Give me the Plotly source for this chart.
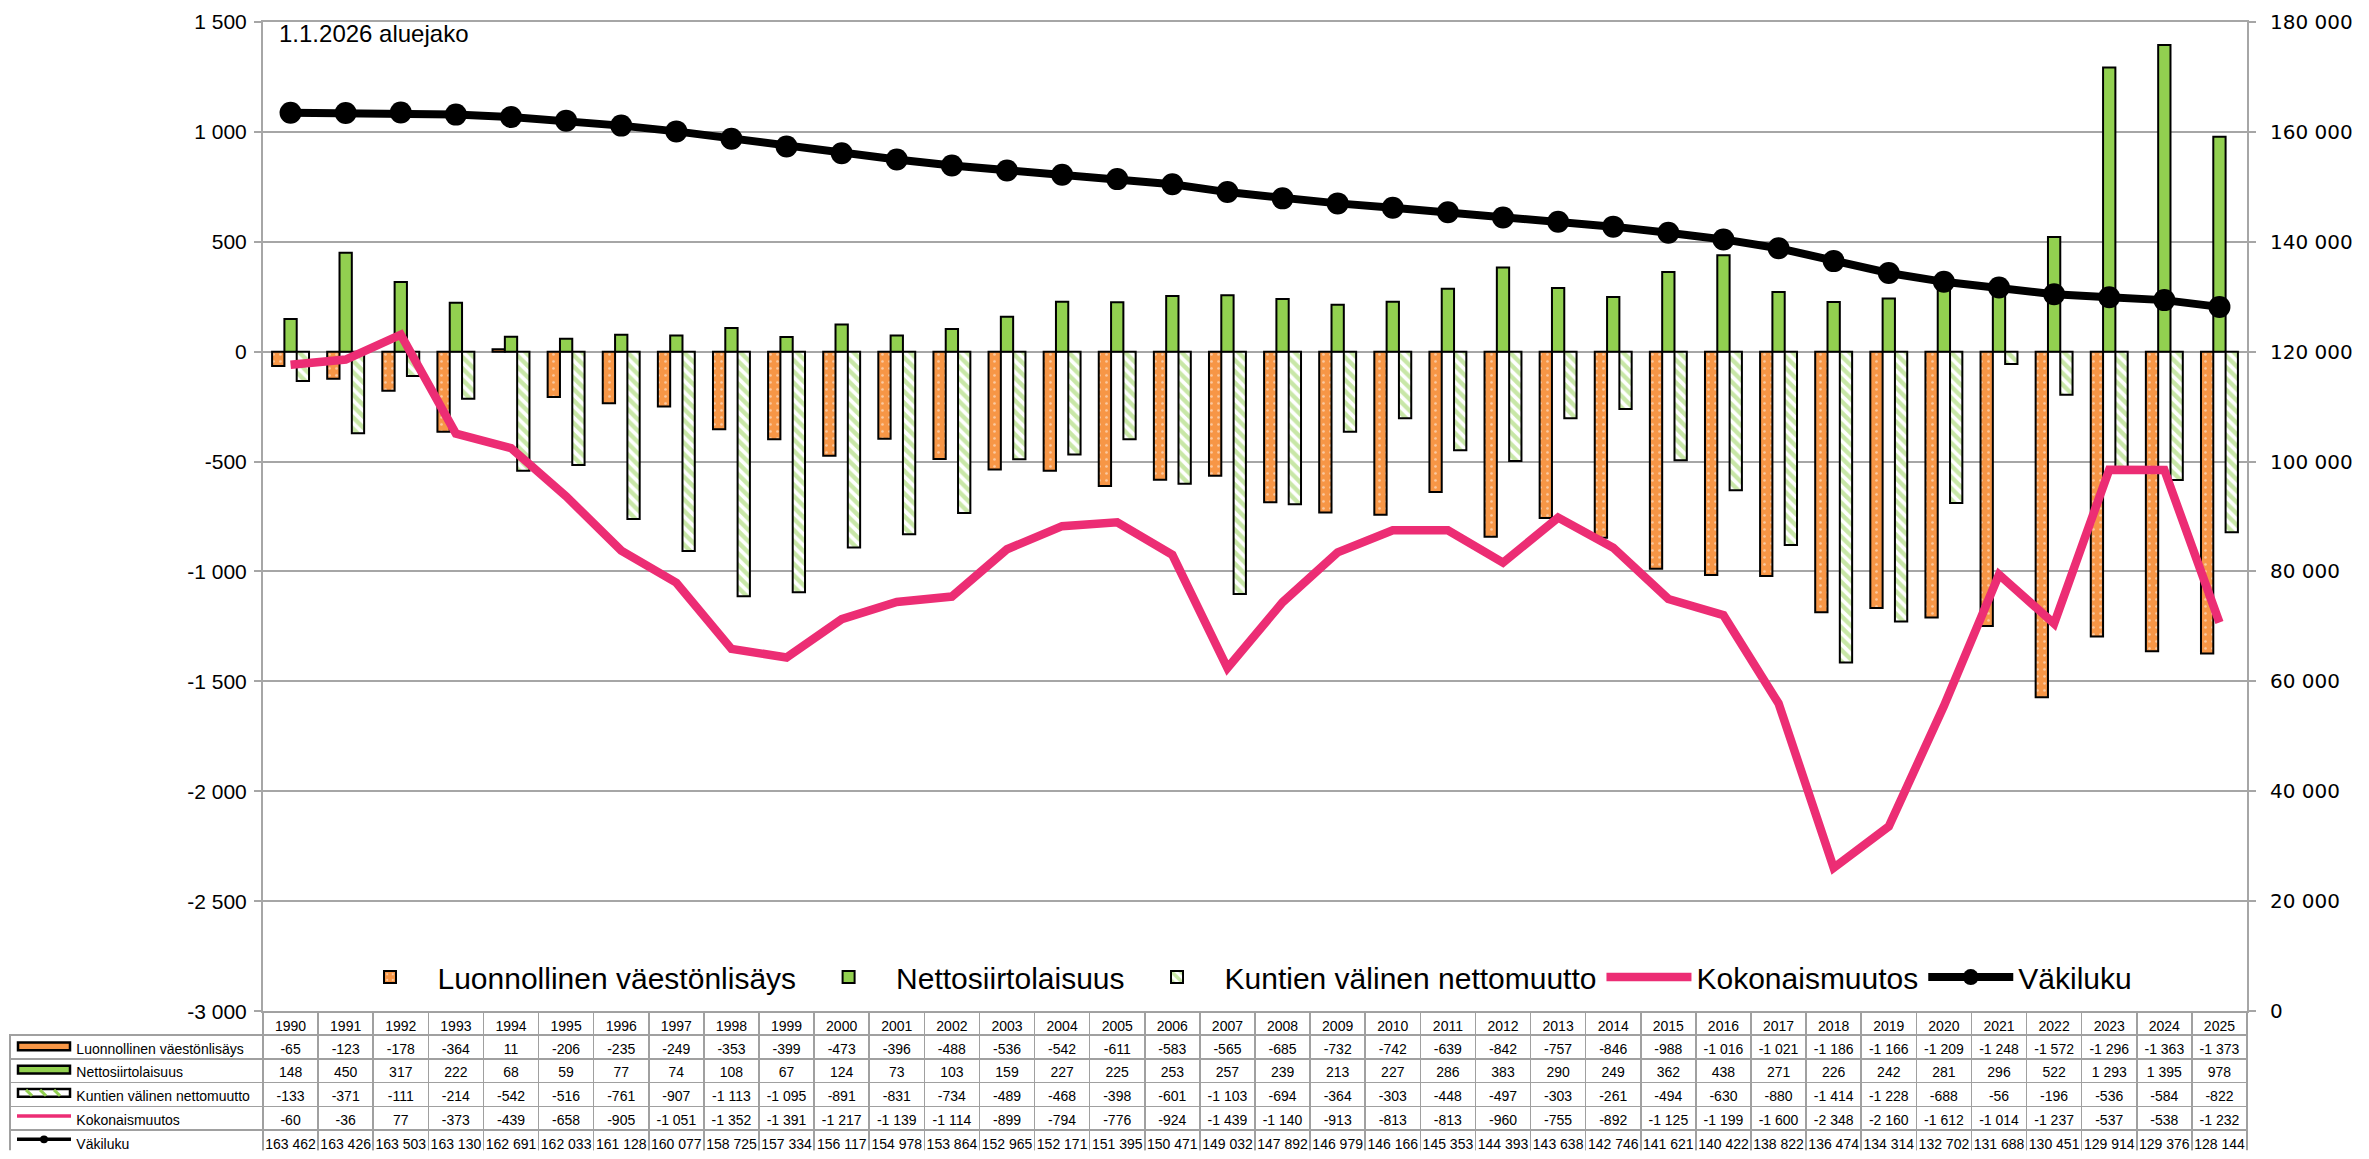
import plotly.graph_objects as go

# ---------------- data ----------------
years = list(range(1990, 2026))

luonnollinen = [-65, -123, -178, -364, 11, -206, -235, -249, -353, -399, -473, -396, -488, -536, -542,
                -611, -583, -565, -685, -732, -742, -639, -842, -757, -846, -988, -1016, -1021, -1186,
                -1166, -1209, -1248, -1572, -1296, -1363, -1373]
netto = [148, 450, 317, 222, 68, 59, 77, 74, 108, 67, 124, 73, 103, 159, 227, 225, 253, 257, 239, 213,
         227, 286, 383, 290, 249, 362, 438, 271, 226, 242, 281, 296, 522, 1293, 1395, 978]
kuntien = [-133, -371, -111, -214, -542, -516, -761, -907, -1113, -1095, -891, -831, -734, -489, -468,
           -398, -601, -1103, -694, -364, -303, -448, -497, -303, -261, -494, -630, -880, -1414, -1228,
           -688, -56, -196, -536, -584, -822]
kokonais = [-60, -36, 77, -373, -439, -658, -905, -1051, -1352, -1391, -1217, -1139, -1114, -899, -794,
            -776, -924, -1439, -1140, -913, -813, -813, -960, -755, -892, -1125, -1199, -1600, -2348,
            -2160, -1612, -1014, -1237, -537, -538, -1232]
vakiluku = [163462, 163426, 163503, 163130, 162691, 162033, 161128, 160077, 158725, 157334, 156117,
            154978, 153864, 152965, 152171, 151395, 150471, 149032, 147892, 146979, 146166, 145353,
            144393, 143638, 142746, 141621, 140422, 138822, 136474, 134314, 132702, 131688, 130451,
            129914, 129376, 128144]

series_names = ["Luonnollinen väestönlisäys", "Nettosiirtolaisuus", "Kuntien välinen nettomuutto",
                "Kokonaismuutos", "Väkiluku"]
left_ticks = list(range(-3000, 1501, 500))
right_ticks = list(range(0, 180001, 20000))
title_text = "1.1.2026 aluejako"

# ---------------- style / layout constants ----------------
WIN_W = 2369
OFF = 8                      # default page body margin
Y0, KY = 20.1, 0.977         # picture y = Y0 + KY * figure y
W, H = WIN_W - 2 * OFF, 1155
PX_L, PX_R, PX_T, PX_B = 263, 2247, 22, 1009     # target picture positions of the plot area
TABLE_L, TABLE_T = 10, 1010
ORANGE = "#F79646"
GREEN = "#92D050"
PINK = "#EC2D74"
GRID = "#A6A6A6"
TBL_LINE = "#A0A0A0"
FONT = "Liberation Sans, Arial, sans-serif"


def fmt(v):
    s = f"{abs(v):,}".replace(",", "\u00a0")
    return ("-" if v < 0 else "") + s


def fy(y):
    """picture y -> figure pixel y"""
    return max((y - Y0) / KY, 0)


def px(x):
    return (x - OFF) / W


def py(y):
    return 1 - fy(y) / H


def pyf(yf):
    return 1 - yf / H


TABLE_TOP_F = fy(TABLE_T)
HEADER_H = 23
ROW_H = (H - TABLE_TOP_F - HEADER_H) / 5

fig = go.Figure()

fig.add_trace(go.Bar(
    x=years, y=luonnollinen, name=series_names[0],
    marker=dict(color=ORANGE, line=dict(color="black", width=2),
                pattern=dict(shape=".", fgcolor="white", bgcolor=ORANGE, size=7, solidity=0.12)),
))
fig.add_trace(go.Bar(
    x=years, y=netto, name=series_names[1],
    marker=dict(color=GREEN, line=dict(color="black", width=2)),
))
fig.add_trace(go.Bar(
    x=years, y=kuntien, name=series_names[2],
    marker=dict(color="white", line=dict(color="black", width=2),
                pattern=dict(shape="\\", fgcolor=GREEN, bgcolor="white", size=8, solidity=0.55)),
))
fig.add_trace(go.Scatter(
    x=years, y=kokonais, name=series_names[3], mode="lines",
    line=dict(color=PINK, width=8.5),
))
fig.add_trace(go.Scatter(
    x=years, y=vakiluku, name=series_names[4], mode="lines+markers", yaxis="y2",
    line=dict(color="black", width=8), marker=dict(color="black", size=22),
))

# data table under the chart
header_vals = [""] + [str(y) for y in years]
rows = [luonnollinen, netto, kuntien, kokonais, vakiluku]
label_col = [n.replace(" ", "\u00a0") for n in series_names]
cell_cols = [label_col] + [[fmt(r[i]) for r in rows] for i in range(len(years))]
ncol = len(years)
colw = (PX_R - PX_L) / ncol
fig.add_trace(go.Table(
    domain=dict(x=[px(TABLE_L), px(PX_R)], y=[0, pyf(TABLE_TOP_F)]),
    columnwidth=[PX_L - TABLE_L] + [colw] * ncol,
    header=dict(values=header_vals, height=HEADER_H, align="center",
                font=dict(family=FONT, size=14, color="black"),
                line=dict(color=["rgba(0,0,0,0)"] + [TBL_LINE] * ncol, width=1.5),
                fill=dict(color=["rgba(0,0,0,0)"] + ["white"] * ncol)),
    cells=dict(values=cell_cols, height=ROW_H, align=["left"] + ["center"] * ncol,
               prefix=["\u00a0" * 15] + [""] * ncol,
               font=dict(family=FONT, size=14, color="black"),
               line=dict(color=TBL_LINE, width=1.5),
               fill=dict(color="white")),
))

# legend keys inside the table label column (figure-pixel positions)
shapes = []
kx0, kx1 = 18, 70
for i in range(5):
    cy = TABLE_TOP_F + HEADER_H + ROW_H * i + ROW_H / 2
    if i < 3:
        fill = [ORANGE, GREEN, "white"][i]
        shapes.append(dict(type="rect", xref="paper", yref="paper",
                           x0=px(kx0), x1=px(kx1), y0=pyf(cy + 4), y1=pyf(cy - 4),
                           fillcolor=fill, line=dict(color="black", width=2.5), layer="above"))
        if i == 2:
            for sx in range(kx0 + 8, kx1 - 4, 14):
                shapes.append(dict(type="line", xref="paper", yref="paper",
                                   x0=px(sx), x1=px(sx + 6), y0=pyf(cy - 3), y1=pyf(cy + 3),
                                   line=dict(color=GREEN, width=3), layer="above"))
    else:
        col = PINK if i == 3 else "black"
        shapes.append(dict(type="line", xref="paper", yref="paper",
                           x0=px(kx0 - 1), x1=px(kx1 + 1), y0=pyf(cy), y1=pyf(cy),
                           line=dict(color=col, width=3.5), layer="above"))
        if i == 4:
            shapes.append(dict(type="circle", xref="paper", yref="paper",
                               x0=px((kx0 + kx1) / 2 - 4), x1=px((kx0 + kx1) / 2 + 4),
                               y0=pyf(cy + 4), y1=pyf(cy - 4),
                               fillcolor="black", line=dict(color="black", width=0), layer="above"))

fig.update_layout(
    width=W, height=H,
    margin=dict(l=0, r=0, t=0, b=0),
    paper_bgcolor="white", plot_bgcolor="white",
    font=dict(family=FONT, color="black"),
    barmode="group", bargap=0.33, bargroupgap=0,
    xaxis=dict(domain=[px(PX_L), px(PX_R)], range=[years[0] - 0.5, years[-1] + 0.5],
               showticklabels=False, ticks="", showgrid=False, zeroline=False,
               showline=True, mirror=True, linecolor=GRID, linewidth=2),
    yaxis=dict(domain=[py(PX_B), py(PX_T)], range=[left_ticks[0], left_ticks[-1]],
               tickvals=left_ticks, ticktext=[fmt(v).replace("\u00a0", " ") for v in left_ticks],
               tickfont=dict(family=FONT, size=21, color="black"),
               ticks="outside", ticklen=7, tickcolor=GRID, tickwidth=1.5, ticklabelstandoff=3,
               ticklabeloverflow="allow",
               showgrid=True, gridcolor=GRID, gridwidth=1.5,
               zeroline=True, zerolinecolor=GRID, zerolinewidth=1.5,
               showline=True, linecolor=GRID, linewidth=2),
    yaxis2=dict(overlaying="y", side="right", range=[right_ticks[0], right_ticks[-1]],
                tickvals=right_ticks, ticktext=[fmt(v).replace("\u00a0", " ") for v in right_ticks],
                tickfont=dict(family="DejaVu Sans, Verdana, sans-serif", size=20, color="black"),
                ticks="outside", ticklen=7, tickcolor=GRID, tickwidth=1.5, ticklabelstandoff=10,
                ticklabeloverflow="allow",
                showgrid=False, zeroline=False,
                showline=True, linecolor=GRID, linewidth=2),
    legend=dict(orientation="h", x=px(1240), xanchor="center",
                y=py(975), yanchor="middle", bgcolor="rgba(0,0,0,0)",
                font=dict(family=FONT, size=30, color="black"), traceorder="normal",
                itemwidth=85),
    annotations=[dict(text=title_text, xref="paper", yref="paper", x=px(277), y=py(34),
                      xanchor="left", yanchor="middle", showarrow=False,
                      font=dict(family=FONT, size=24, color="black"))],
    shapes=shapes,
)

fig.write_html("out.html", config={"displayModeBar": False})
